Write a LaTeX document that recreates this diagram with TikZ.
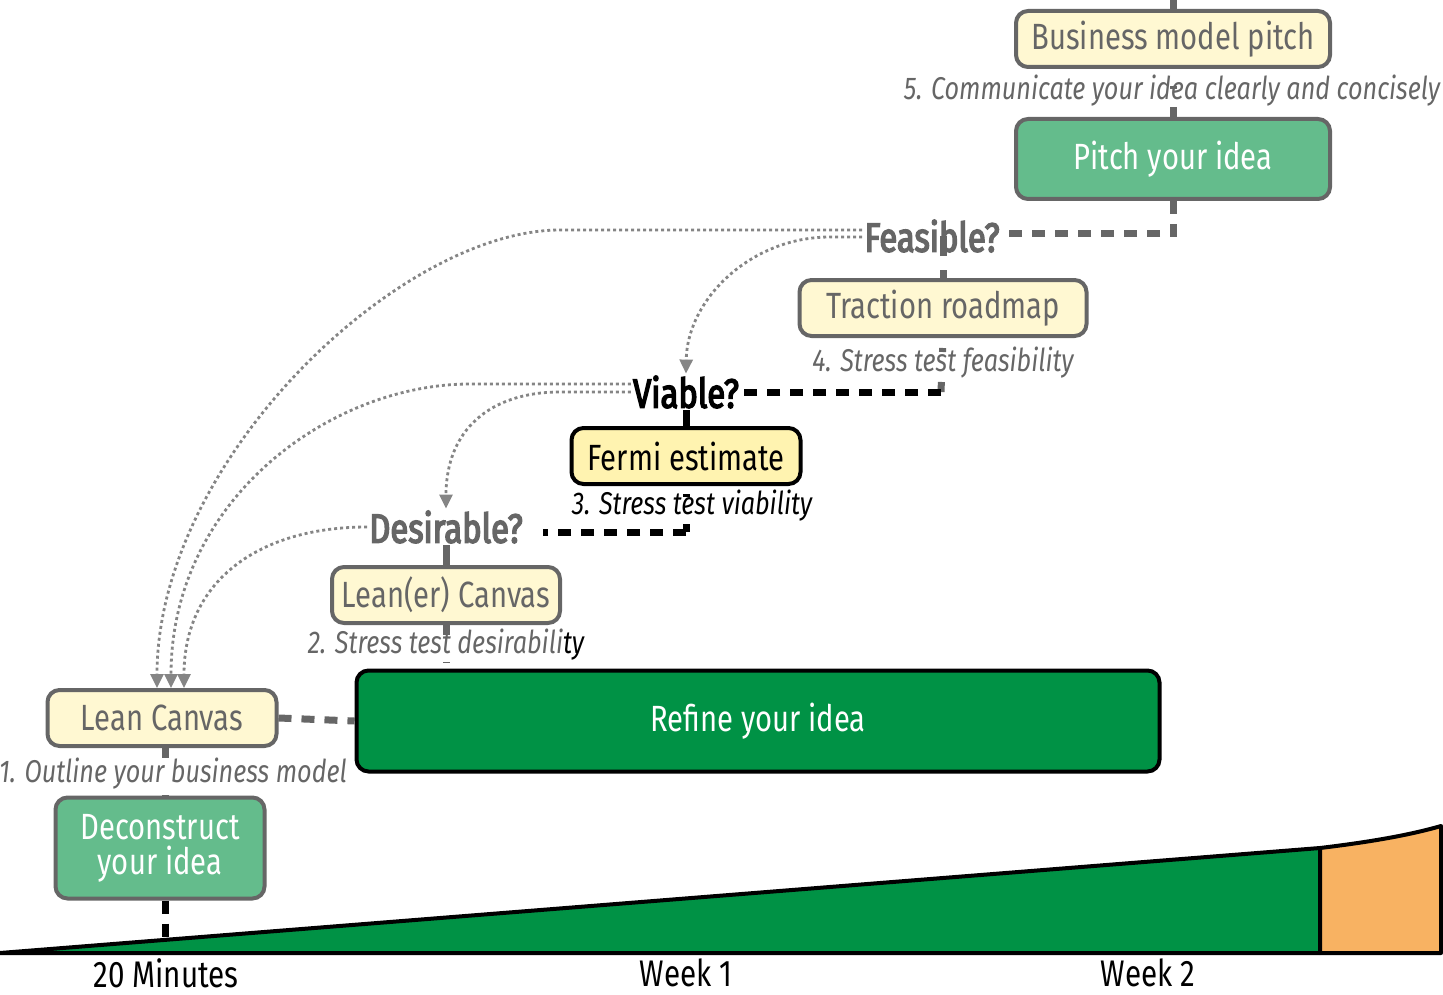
\documentclass[tikz,border=0pt]{standalone}
\usepackage{fontspec}
\setmainfont{Fira Sans}[FakeStretch=0.8]
\newfontfamily\qfam{Fira Sans}[FakeStretch=0.8, FakeBold=3.5]
\usetikzlibrary{arrows.meta,backgrounds}
\definecolor{cream}{HTML}{FFF8D2}
\definecolor{creamy}{HTML}{FFF3B0}
\definecolor{gborder}{HTML}{666666}
\definecolor{gtext}{HTML}{666666}
\definecolor{midgreen}{HTML}{64BC8C}
\definecolor{darkgreen}{HTML}{009245}
\definecolor{orangefill}{HTML}{F8B262}
\definecolor{dotgray}{HTML}{858585}
\newcommand\bxf{\fontsize{36.5}{38}\selectfont}
\newcommand\qf{\qfam\fontsize{41}{44}\selectfont}
\newcommand\stf{\itshape\fontsize{31.5}{33}\selectfont}
\newcommand\axf{\fontsize{37}{40}\selectfont}
\tikzset{
  box/.style={draw=gborder, line width=4pt, rounded corners=12pt, fill=cream, text=gtext, font=\bxf, inner sep=0pt, align=center},
  greenbox/.style={box, fill=midgreen, text=white},
  fermibox/.style={box, draw=black, fill=creamy, text=black},
  refinebox/.style={box, draw=black, fill=darkgreen, text=white},
  qlabel/.style={font=\qf, text=gtext, inner sep=2pt},
  steplabel/.style={font=\stf, text=gtext, inner sep=0pt},
  axlabel/.style={font=\axf, text=black, inner sep=0pt},
  gdash/.style={draw=gborder, line width=7pt, dash pattern=on 13pt off 10pt},
  bdash/.style={draw=black, line width=7pt, dash pattern=on 13pt off 10pt},
  gsolid/.style={draw=gborder, line width=7pt},
  dotarrow/.style={draw=dotgray, line width=2.8pt, dash pattern=on 3pt off 3pt, -{Triangle[width=13pt,length=14pt,fill=dotgray]}}
}
\begin{document}
\begin{tikzpicture}[x=1pt,y=-1pt]
\useasboundingbox (0,0) rectangle (1443,995);

\coordinate (topc) at (1173,0);
\coordinate (feasturn) at (1173,234);
\coordinate (feasend) at (1005,234);
\coordinate (tracturn) at (941,392);
\coordinate (fermiturn) at (686,532);
\coordinate (desend) at (543,532);
\coordinate (leanerend) at (446,663);
\coordinate (decend) at (165,940);

\node[box, minimum width=314pt, minimum height=56pt] (bmp) at (1173,39) {Business model pitch};
\node[steplabel] (s5) at (1172,91) {5. Communicate your idea clearly and concisely};
\node[greenbox, minimum width=314pt, minimum height=80pt] (pitch) at (1173,159) {Pitch your idea};
\node[qlabel] (feas) at (932,236) {Feasible?};
\node[box, minimum width=287pt, minimum height=56pt] (trac) at (943,308) {Traction roadmap};
\node[steplabel] (s4) at (943,363) {4. Stress test feasibility};
\node[qlabel, text=black] (viab) at (686,392) {Viable?};
\node[fermibox, minimum width=229pt, minimum height=56pt] (fermi) at (686,456) {Fermi estimate};
\node[steplabel, text=black] (s3) at (692,506) {3. Stress test viability};
\node[qlabel] (des) at (446,527) {Desirable?};
\node[box, minimum width=228pt, minimum height=56pt] (leaner) at (446,595) {Lean(er) Canvas};
\node[steplabel] (s2) at (446,645) {2. Stress test desirabili{\color{black}ty}};
\node[box, minimum width=229pt, minimum height=56pt] (lc) at (162,718) {Lean Canvas};
\node[refinebox, minimum width=803pt, minimum height=101pt] (refine) at (758,721) {Refine your idea};
\node[steplabel] (s1) at (173,774) {1. Outline your business model};
\node[greenbox, minimum width=209pt, minimum height=101pt] (dec) at (160,848) {Deconstruct\\[-3pt]your idea};

\node[axlabel] (t1) at (166,973) {20 Minutes};
\node[axlabel] (t2) at (686,973) {Week 1};
\node[axlabel] (t3) at (1148,973) {Week 2};

\begin{scope}[on background layer]
% timeline wedge
\path[fill=darkgreen, draw=black, line width=4pt, line join=round] (0,953) -- (1320,848) -- (1320,953) -- cycle;
\path[fill=orangefill, draw=black, line width=4pt, line join=round] (1320,848) .. controls (1370,842) and (1410,835) .. (1441,826) -- (1441,953) -- (1320,953) -- cycle;

\draw[gsolid] (topc) -- (bmp.north);
\draw[gsolid, dash pattern=on 0pt off 17pt on 3pt off 18pt on 20pt] (bmp.south) -- (pitch.north);
\draw[gdash] (pitch.south) -- (feasturn) -- (feasend);
\draw[gsolid, dash pattern=on 8pt off 14pt on 20pt] (trac.north) -- (trac.north |- feas.center);
\draw[gsolid, dash pattern=on 0pt off 10pt on 4pt off 30pt on 20pt] (trac.south) -- (tracturn);
\draw[bdash] (tracturn) -- (viab.east |- tracturn);
\draw[draw=black, line width=7pt] (fermi.north) -- (viab.south);
\draw[draw=black, line width=7pt, dash pattern=on 0pt off 8pt on 3pt off 27pt on 20pt] (fermi.south) -- (fermiturn);
\draw[bdash] (fermiturn) -- (desend);
\draw[gsolid] (leaner.north) -- (des.south);
\draw[gsolid, dash pattern=on 10pt off 27pt on 3pt] (leaner.south) -- (leanerend);
\draw[gdash] (lc.east) -- (refine.west);
\draw[gsolid, dash pattern=on 10pt off 37pt on 10pt] (lc.south -| decend) -- (dec.north -| decend);
\draw[bdash] (dec.south -| decend) -- (decend);

% dotted feedback arrows
\draw[dotarrow] ([yshift=6pt]feas.west) -- (560,230) .. controls (400,230) and (157,460) .. ([xshift=-5pt]lc.north);
\draw[dotarrow] ([yshift=-1pt]feas.west) -- (830,237) .. controls (750,237) and (687,300) .. (viab.north);
\draw[dotarrow] ([yshift=8pt]viab.west) -- (470,384) .. controls (330,384) and (171,500) .. ([xshift=9pt]lc.north);
\draw[dotarrow] ([yshift=0pt]viab.west) -- (560,392) .. controls (490,392) and (446,430) .. (des.north);
\draw[dotarrow] (des.west) .. controls (260,527) and (184,580) .. ([xshift=22pt]lc.north);
\end{scope}
\end{tikzpicture}
\end{document}
